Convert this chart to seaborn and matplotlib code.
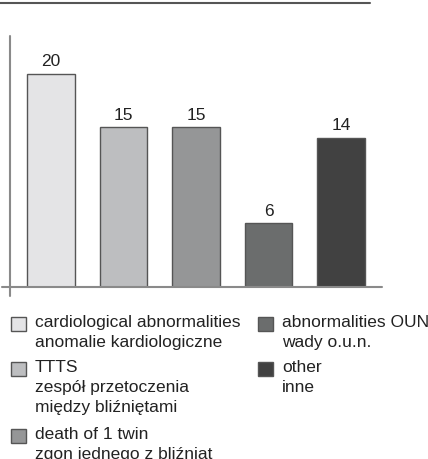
import matplotlib.pyplot as plt
import matplotlib.patches as mpatches
import seaborn as sns

categories = ["cardiological", "TTTS", "death of 1 twin", "OUN", "other"]
values = [20, 15, 15, 6, 14]
colors = ["#e4e4e6", "#bdbec0", "#959697", "#6b6d6d", "#414141"]
legend_labels = [
    "cardiological abnormalities\nanomalie kardiologiczne",
    "TTTS\nzespół przetoczenia\nmiędzy bliźniętami",
    "death of 1 twin\nzgon jednego z bliźniąt",
    "abnormalities OUN\nwady o.u.n.",
    "other\ninne",
]

sns.set_style("white")
plt.rcParams["font.family"] = ["Liberation Sans", "DejaVu Sans"]

W, H = 428, 460
fig = plt.figure(figsize=(W / 100, H / 100), dpi=100)
ax = fig.add_axes([10 / W, 1 - 288 / H, 372 / W, 251 / H])

sns.barplot(x=categories, y=values, hue=categories, palette=colors, width=0.66,
            edgecolor="#555555", linewidth=1.0, legend=False, ax=ax)
for c in ax.containers:
    ax.bar_label(c, padding=4, fontsize=12.5, color="#222222")

ax.set_xlim(-0.566, 4.566)
ax.set_ylim(0, 23.57)
ax.set_xticks([])
ax.set_yticks([])
ax.set_xlabel("")
ax.set_ylabel("")
for s in ax.spines.values():
    s.set_visible(False)

# axis lines, slightly crossing each other
ax.plot([-0.022, 1], [0, 0], transform=ax.transAxes, color="#8a8a8a", lw=1.5, clip_on=False)
ax.plot([0, 0], [-9 / 251, 1], transform=ax.transAxes, color="#8a8a8a", lw=1.5, clip_on=False)

# top rule
fig.add_artist(plt.Line2D([0, 370 / W], [1 - 4 / H, 1 - 4 / H], color="#555555", lw=1.5))

# legend, two columns
col_x = [11, 258]
starts = [[323, 368, 435], [323, 368]]
k = 0
for ci, ys in enumerate(starts):
    for y in ys:
        x0 = col_x[ci]
        fig.add_artist(mpatches.Rectangle((x0 / W, 1 - (y + 9) / H), 15 / W, 14 / H,
                                          facecolor=colors[k], edgecolor="#555555", lw=1.0))
        fig.text((x0 + 24) / W, 1 - (y - 8) / H, legend_labels[k], fontsize=12.5,
                 color="#222222", va="top", ha="left", linespacing=1.42)
        k += 1

fig.savefig("out.png", dpi=100)
